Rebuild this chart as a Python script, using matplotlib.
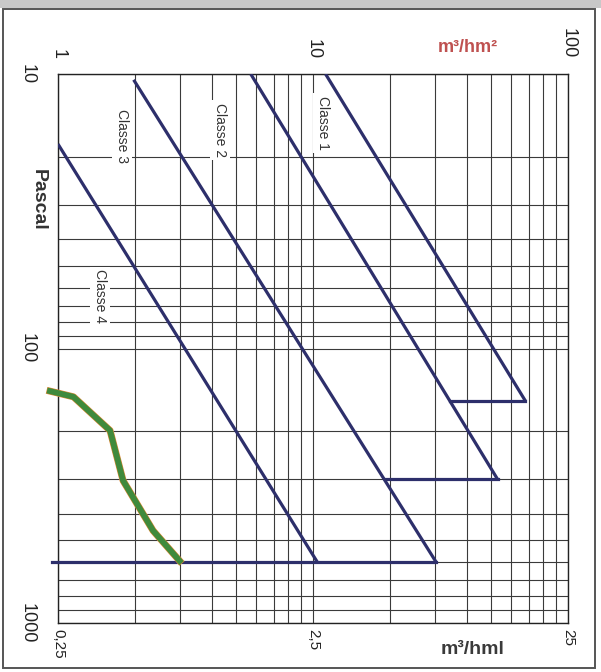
import matplotlib.pyplot as plt
from matplotlib.patches import Rectangle

plt.rcParams['font.family'] = ['Liberation Sans', 'DejaVu Sans']

# class lines (m3/hm2 vs Pascal), endpoints
class_names = ["Classe 1", "Classe 2", "Classe 3", "Classe 4"]
class_q = [[11.2, 68.0], [5.7, 53.0], [1.98, 30.4], [1.0, 10.4]]
class_p = [[10, 155], [10, 300], [10.5, 600], [18, 600]]

# horizontal limit segments (pressure, from flow, to flow)
limit_p = [155, 300, 600]
limit_q_from = [34.5, 19.2, 0.95]
limit_q_to = [68.0, 53.0, 30.4]

# measured curve
meas_q = [0.93, 1.15, 1.6, 1.8, 2.36, 3.0]
meas_p = [143, 150, 199, 303, 461, 594]

# label positions
label_q = [10.9, 4.32, 1.78, 1.46]
label_p = [15.1, 16.0, 16.8, 64.6]

top_ticks = [1, 10, 100]
top_labels = ["1", "10", "100"]
bottom_ticks = [0.25, 2.5, 25]
bottom_labels = ["0,25", "2,5", "25"]
p_ticks = [10, 100, 1000]
p_labels = ["10", "100", "1000"]

navy = "#2d2f6b"

fig = plt.figure(figsize=(6.01, 6.72), dpi=100)
ax = fig.add_axes([58 / 601, 1 - 623 / 672, 510 / 601, 549 / 672])

ax.set_xscale("log")
ax.set_yscale("log")
ax.set_xlim(1, 100)
ax.set_ylim(1000, 10)

ax.grid(True, which="both", color="#3a3a3a", lw=0.8)
ax.set_axisbelow(True)
for s in ax.spines.values():
    s.set_color("#222222")
    s.set_linewidth(1.0)

# top axis: m3/hm2
ax.xaxis.tick_top()
ax.set_xticks(top_ticks)
ax.set_xticklabels(top_labels)
ax.tick_params(axis="x", which="major", length=0, pad=11, labelsize=13,
               labelrotation=-90, labelcolor="#222222")
ax.tick_params(axis="x", which="minor", length=0, labeltop=False, labelbottom=False)

# left axis: Pascal
ax.set_yticks(p_ticks)
ax.set_yticklabels(p_labels)
ax.tick_params(axis="y", which="major", length=0, pad=16, labelsize=13,
               labelrotation=-90, labelcolor="#222222")
ax.tick_params(axis="y", which="minor", length=0, labelleft=False)
for lab in ax.get_yticklabels():
    lab.set_va("center")

# bottom axis: m3/hml
sec = ax.secondary_xaxis("bottom", functions=(lambda q: q / 4, lambda q: q * 4))
sec.set_xticks(bottom_ticks)
sec.set_xticklabels(bottom_labels)
sec.tick_params(axis="x", which="major", length=0, pad=4, labelsize=11,
                labelrotation=-90, labelcolor="#222222")
sec.tick_params(axis="x", which="minor", length=0, labelbottom=False)
sec.spines["bottom"].set_visible(False)

for q, p in zip(class_q, class_p):
    ax.plot(q, p, color=navy, lw=2.3, solid_capstyle="butt", zorder=3)

for p, q0, q1 in zip(limit_p, limit_q_from, limit_q_to):
    ax.plot([q0, q1], [p, p], color=navy, lw=2.3, zorder=3, clip_on=False)

ax.plot(meas_q, meas_p, color="#e08a35", lw=5.0, zorder=4, clip_on=False,
        solid_joinstyle="round")
ax.plot(meas_q, meas_p, color="#3f8a3c", lw=4.2, zorder=5, clip_on=False,
        solid_joinstyle="round")

for name, q, p in zip(class_names, label_q, label_p):
    ax.text(q, p, name, rotation=-90, ha="center", va="center", fontsize=10,
            color="#333333", zorder=6,
            bbox=dict(fc="white", ec="none", pad=2))

fig.text(38 / 601, 1 - 200 / 672, "Pascal", rotation=-90, ha="center", va="center",
         fontsize=14, fontweight="bold", color="#333333")
fig.text(468 / 601, 1 - 48 / 672, "m³/hm²", ha="center", va="center",
         fontsize=13, fontweight="bold", color="#bf5150")
fig.text(473 / 601, 1 - 649 / 672, "m³/hml", ha="center", va="center",
         fontsize=14, fontweight="bold", color="#3a3a3a")

# page frame of the scan
fig.patches.append(Rectangle((0, 1 - 8 / 672), 1, 8 / 672, transform=fig.transFigure,
                             fc="#c8c8c8", ec="none"))
fig.patches.append(Rectangle((3 / 601, 1 - 668 / 672), 592 / 601, 659 / 672,
                             transform=fig.transFigure, fill=False,
                             ec="#555555", lw=1.4))

fig.savefig("out.png", dpi=100)
